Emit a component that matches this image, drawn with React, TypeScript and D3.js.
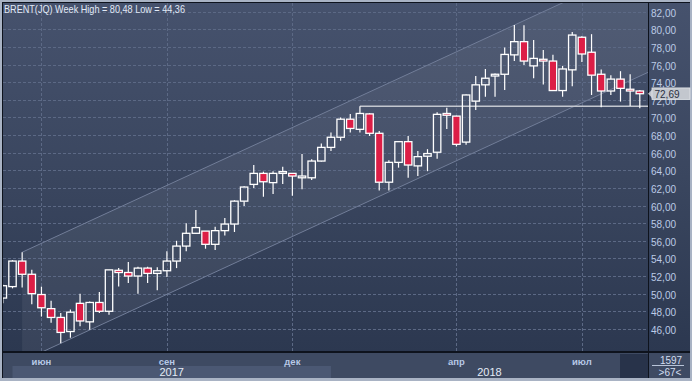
import React from 'react';
import * as d3 from 'd3';

// ---- data ----
const weeks = [
  '2017-05-08','2017-05-15','2017-05-22','2017-05-29','2017-06-05','2017-06-12','2017-06-19','2017-06-26',
  '2017-07-03','2017-07-10','2017-07-17','2017-07-24','2017-07-31','2017-08-07','2017-08-14','2017-08-21',
  '2017-08-28','2017-09-04','2017-09-11','2017-09-18','2017-09-25','2017-10-02','2017-10-09','2017-10-16',
  '2017-10-23','2017-10-30','2017-11-06','2017-11-13','2017-11-20','2017-11-27','2017-12-04','2017-12-11',
  '2017-12-18','2017-12-25','2018-01-01','2018-01-08','2018-01-15','2018-01-22','2018-01-29','2018-02-05',
  '2018-02-12','2018-02-19','2018-02-26','2018-03-05','2018-03-12','2018-03-19','2018-03-26','2018-04-02',
  '2018-04-09','2018-04-16','2018-04-23','2018-04-30','2018-05-07','2018-05-14','2018-05-21','2018-05-28',
  '2018-06-04','2018-06-11','2018-06-18','2018-06-25','2018-07-02','2018-07-09','2018-07-16','2018-07-23',
  '2018-07-30','2018-08-06','2018-08-13'
];
const opens = [
  49.5,50.8,53.7,52.2,49.9,48.3,47.3,45.7,48.9,46.8,49.0,48.0,52.65,52.4,52.0,52.9,
  52.3,52.6,53.7,55.4,56.85,57.1,55.6,57.15,57.9,60.5,62.4,63.65,62.6,63.65,63.65,63.15,
  63.15,65.05,66.6,67.75,69.8,68.65,70.4,68.2,62.65,64.9,67.25,64.5,65.6,66.05,70.45,70.15,
  67.2,71.85,73.7,74.7,74.9,77.1,78.6,75.85,76.6,76.4,73.05,75.4,79.1,77.4,74.9,73.0,
  74.35,73.2,73.0
];
const highs = [
  51.0,53.8,54.7,52.7,50.8,49.2,47.8,48.2,50.0,49.1,50.2,52.7,52.9,53.6,53.05,53.05,
  53.0,54.8,56.0,58.0,59.5,57.1,57.6,58.6,60.6,62.2,64.6,63.85,63.9,64.4,63.65,65.85,
  65.25,67.05,68.3,70.0,70.4,71.28,70.5,68.45,65.15,67.25,67.9,66.2,66.4,70.6,71.1,70.2,
  72.6,74.7,75.5,75.0,77.95,80.48,80.45,78.8,77.65,77.1,75.85,79.7,79.2,79.45,75.45,74.8,
  75.25,74.9,73.1
];
const lows = [
  48.9,50.6,50.7,48.8,47.4,46.7,44.36,45.0,46.3,45.9,47.8,47.6,50.8,51.2,50.0,51.2,
  50.4,51.9,52.9,54.8,56.8,55.1,54.95,56.6,57.0,59.95,62.0,61.0,61.3,62.45,61.1,61.85,
  62.9,65.0,66.2,67.35,68.3,68.3,67.9,61.7,61.7,64.3,63.15,63.35,63.9,65.3,68.7,66.7,
  66.9,70.85,72.35,72.35,73.1,76.4,75.95,74.45,73.75,73.0,72.35,73.55,76.3,72.55,71.15,72.55,
  71.8,71.3,71.05
];
const closes = [
  50.9,53.7,52.2,50.0,48.4,47.3,45.6,47.9,46.9,49.0,48.0,52.7,52.4,52.0,52.9,52.3,
  52.6,53.7,55.4,56.85,57.5,55.6,57.15,57.9,60.5,62.1,63.65,62.7,63.65,63.85,63.35,63.35,
  65.05,66.6,67.75,69.8,68.75,70.45,68.2,62.65,64.9,67.25,64.6,65.55,65.9,70.35,70.25,66.95,
  72.55,73.7,74.45,74.9,77.15,78.6,76.4,76.7,76.4,73.05,75.5,79.35,77.2,74.8,73.0,74.35,
  73.3,73.0,72.69
];
const priceTicks = [46,48,50,52,54,56,58,60,62,64,66,68,70,72,74,76,78,80,82];
const monthTickWeeks = ['2017-06-05','2017-09-04','2017-12-04','2018-04-02','2018-07-02'];
const monthTickLabels = ['июн','сен','дек','апр','июл'];
const yearLabels = ['2017','2018'];
const yearBandWeeks = ['2017-05-15','2018-01-01'];
const titleText = 'BRENT(JQ) Week High = 80,48 Low = 44,36';
const lastPrice = 72.69;
const resistanceLevel = 71.28;
const resistanceWeek = '2018-01-22';
const channelUpperWeeks = ['2017-05-22','2018-05-14'];
const channelUpperValues = [54.7, 80.48];
const channelLowerWeek = '2017-06-19';
const channelLowerValue = 44.36;
const barCountText = '1597';
const visibleText = '>67<';

const fmt = (v: number) => v.toFixed(2).replace('.', ',');

export default function App() {
  const W = 692, H = 381;
  const plotL = 3, plotR = 648, plotT = 3, plotB = 351;
  const x = d3.scaleLinear().domain([0, weeks.length - 1]).range([2.85, 639.8]);
  const y = d3.scaleLinear().domain([46, 82]).range([328.9, 11.7]);
  const idx = (w: string) => weeks.indexOf(w);
  const font = '"Liberation Sans", Arial, sans-serif';

  // channel
  const u0 = idx(channelUpperWeeks[0]), u1 = idx(channelUpperWeeks[1]);
  const slope = (channelUpperValues[1] - channelUpperValues[0]) / (u1 - u0);
  const upper = (i: number) => channelUpperValues[0] + slope * (i - u0);
  const lIdx = idx(channelLowerWeek);
  const lower = (i: number) => channelLowerValue + slope * (i - lIdx);
  const iR = x.invert(plotR);
  const chanPoly = [
    [x(u0), y(upper(u0))], [x(iR), y(upper(iR))], [x(iR), y(lower(iR))], [x(u0), y(lower(u0))]
  ];
  const line = d3.line();

  const candles = weeks.map((w, i) => ({ i, o: opens[i], h: highs[i], l: lows[i], c: closes[i] }));
  const bodyW = 7.4;
  const yLast = y(lastPrice);

  const rIdx = idx(resistanceWeek);

  return (
    <svg width={W} height={H} style={{ position: 'absolute', left: 0, top: 0 }} fontFamily={font}>
      <defs>
        <linearGradient id="bg" x1="0" y1="0" x2="0" y2="1">
          <stop offset="0" stopColor="#46526d" />
          <stop offset="0.5" stopColor="#3a465f" />
          <stop offset="1" stopColor="#2c3850" />
        </linearGradient>
        <clipPath id="plotClip">
          <rect x={plotL} y={plotT} width={plotR - plotL} height={plotB - plotT} />
        </clipPath>
      </defs>
      <rect x={0} y={0} width={W} height={H} fill="#a9b3c4" />
      <rect x={2} y={2} width={W - 4} height={H - 5} fill="#0e131d" />
      <rect x={plotL} y={plotT} width={plotR - plotL} height={plotB - plotT} fill="url(#bg)" />
      <rect x={649} y={plotT} width={41} height={plotB - plotT} fill="url(#bg)" />
      <rect x={plotL} y={353} width={plotR - plotL} height={25} fill="#3e4a62" />
      <rect x={649} y={353} width={41} height={25} fill="#3e4a62" />

      <g clipPath="url(#plotClip)">
        <path d={line(chanPoly as [number, number][]) + 'Z'} fill="#ffffff" fillOpacity={0.06} />
        {priceTicks.map(t => (
          <line key={'h' + t} x1={plotL} x2={plotR} y1={Math.round(y(t)) + 0.5} y2={Math.round(y(t)) + 0.5}
            stroke="#5c6985" strokeDasharray="3,2" strokeWidth={1} />
        ))}
        {monthTickWeeks.map(w => (
          <line key={'v' + w} x1={Math.round(x(idx(w))) + 0.5} x2={Math.round(x(idx(w))) + 0.5} y1={plotT} y2={plotB}
            stroke="#5c6985" strokeDasharray="3,2" strokeWidth={1} />
        ))}
        <line x1={x(u0)} y1={y(upper(u0))} x2={x(iR)} y2={y(upper(iR))} stroke="#717d98" strokeWidth={1} />
        <line x1={x(u0)} y1={y(lower(u0))} x2={x(iR)} y2={y(lower(iR))} stroke="#717d98" strokeWidth={1} />
        <line x1={x(rIdx)} x2={plotR} y1={y(resistanceLevel)} y2={y(resistanceLevel)} stroke="#c3c7cf" strokeWidth={1.5} />
        {candles.map(d => {
          const up = d.c >= d.o;
          const top = y(Math.max(d.o, d.c));
          const bot = y(Math.min(d.o, d.c));
          const hgt = Math.max(1.5, bot - top);
          const cx = x(d.i);
          return (
            <g key={d.i}>
              <line x1={cx} x2={cx} y1={y(d.h)} y2={top} stroke="#ffffff" strokeWidth={1.2} />
              <line x1={cx} x2={cx} y1={top + hgt} y2={y(d.l)} stroke="#ffffff" strokeWidth={1.2} />
              <rect x={cx - bodyW / 2} y={top} width={bodyW} height={hgt}
                fill={up ? 'none' : '#dc1e46'} stroke="#ffffff" strokeWidth={1.3} />
            </g>
          );
        })}
      </g>

      <text x={4} y={12.5} fontSize={10.5} fill="#e2eaf7" textLength={181} lengthAdjust="spacingAndGlyphs">{titleText}</text>

      {priceTicks.map(t => (
        <text key={'yl' + t} x={651} y={y(t) + 5} fontSize={10} fill="#bccbe6">{fmt(t)}</text>
      ))}
      <path d={`M648,${yLast} L652.5,${yLast - 4.5} L652.5,${yLast + 4.5} Z`} fill="#c3c7ce" />
      <rect x={652} y={yLast - 5.8} width={38} height={11.6} fill="#c3c7ce" stroke="#e3e6ea" strokeWidth={0.8} />
      <text x={654.5} y={yLast + 4} fontSize={10} fill="#2a3142">{fmt(lastPrice)}</text>

      <rect x={x(idx(yearBandWeeks[0]))} y={366} width={x(idx(yearBandWeeks[1])) - x(idx(yearBandWeeks[0]))} height={12} fill="#4b5873" />
      <rect x={620} y={354} width={28} height={24} fill="#28334a" />
      {monthTickWeeks.map((w, k) => (
        <text key={'ml' + w} x={x(idx(w))} y={364.5} fontSize={9.5} fontWeight="bold" fill="#b6c8e6" textAnchor="middle">{monthTickLabels[k]}</text>
      ))}
      {yearLabels.map((yl, k) => {
        const a = x(idx(yearBandWeeks[k]));
        const b = k + 1 < yearBandWeeks.length ? x(idx(yearBandWeeks[k + 1])) : plotR;
        return <text key={yl} x={(a + b) / 2} y={376} fontSize={11} fill="#e4ebf6" textAnchor="middle">{yl}</text>;
      })}
      <text x={671} y={363.5} fontSize={10} fill="#d2ddef" textAnchor="middle">{barCountText}</text>
      <line x1={652} x2={684} y1={365.5} y2={365.5} stroke="#b8c4d8" strokeWidth={1} />
      <text x={670} y={375.5} fontSize={10} fill="#d2ddef" textAnchor="middle">{visibleText}</text>
    </svg>
  );
}
